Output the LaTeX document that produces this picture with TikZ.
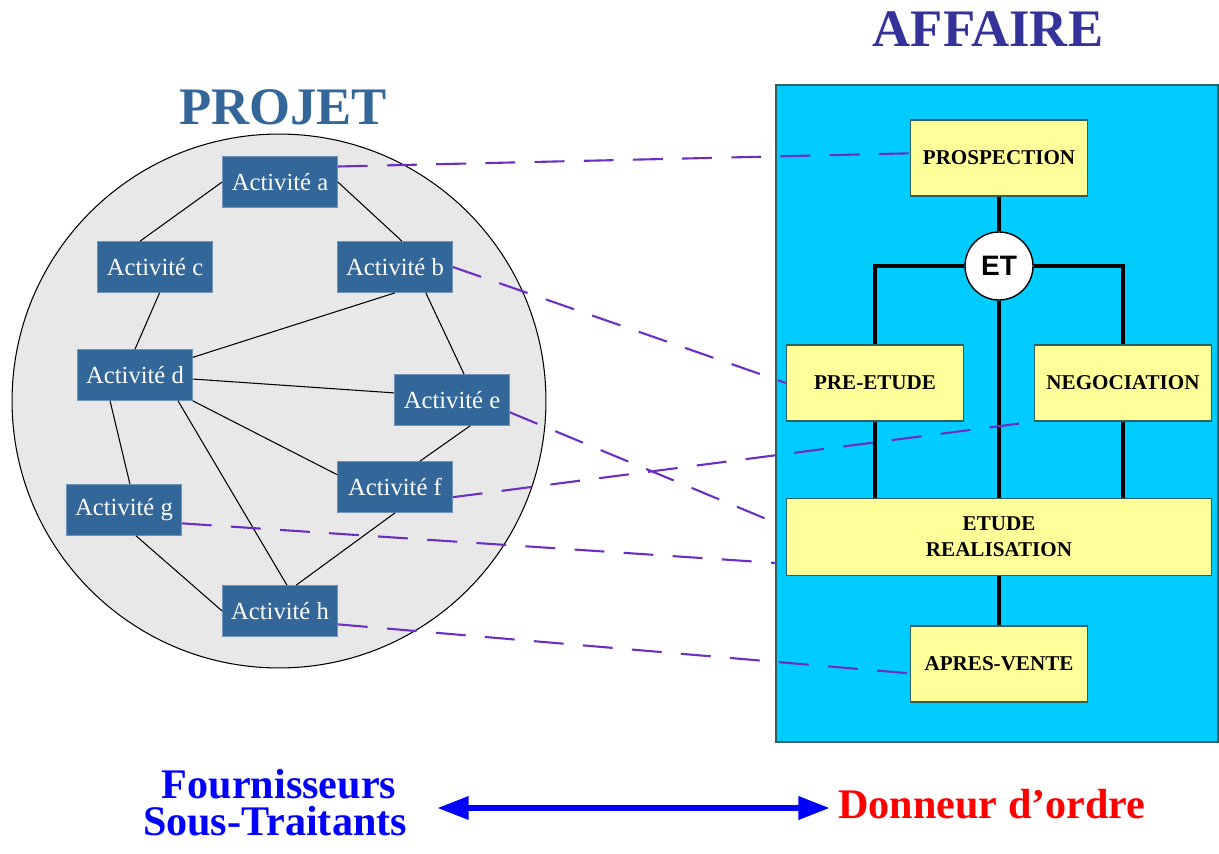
\documentclass[tikz,border=0pt]{standalone}
\usepackage{fontspec}
\setmainfont{Liberation Serif}
\newfontfamily\etfont{Liberation Sans}
\usepackage{xcolor}
\usetikzlibrary{arrows.meta,calc}
\definecolor{actblue}{HTML}{336699}
\definecolor{affblue}{HTML}{333399}
\definecolor{zonecyan}{HTML}{00CCFF}
\definecolor{phaseyellow}{HTML}{FFFF99}
\definecolor{edgeteal}{HTML}{2F6060}
\definecolor{linkviolet}{HTML}{6B2FC4}
\definecolor{zonegrey}{HTML}{E8E8E8}

\begin{document}
\begin{tikzpicture}[x=0.02cm,y=-0.02cm,
    act/.style={fill=actblue,draw=actblue!70!white,text=white,minimum width=2.3cm,minimum height=1.02cm,inner sep=0pt,font=\fontsize{14}{16}\selectfont},
    phase/.style={fill=phaseyellow,draw=edgeteal,line width=0.8pt,minimum width=3.54cm,minimum height=1.52cm,inner sep=0pt,align=center,font=\bfseries\fontsize{12}{14.8}\selectfont},
    actlink/.style={black,line width=0.6pt},
    andlink/.style={black,line width=2.8pt},
    dashlink/.style={linkviolet,line width=1.2pt,dash pattern=on 17pt off 11pt},
    bigtext/.style={anchor=base,inner sep=0pt,font=\bfseries\fontsize{24}{24}\selectfont}]
    \useasboundingbox (0,0) rectangle (1219,854);
    \node[anchor=base,inner sep=0pt,text=actblue,font=\bfseries\fontsize{30}{30}\selectfont] (projet) at (283,125) {PROJET};
    \node[anchor=base,inner sep=0pt,text=affblue,font=\bfseries\fontsize{30}{30}\selectfont] (affaire) at (988,47) {AFFAIRE};
    \node[circle,draw=black,fill=zonegrey,line width=0.6pt,minimum size=10.68cm,inner sep=0pt] (projetzone) at (279,401) {};
    \node[act] (a) at (280,182) {Activité a};
    \node[act] (b) at (395,267) {Activité b};
    \node[act] (c) at (155,267) {Activité c};
    \node[act] (d) at (135,375) {Activité d};
    \node[act] (e) at (452,400) {Activité e};
    \node[act] (f) at (395,487) {Activité f};
    \node[act] (g) at (124,510) {Activité g};
    \node[act] (h) at (280,611) {Activité h};
    \draw[actlink] (a.west) -- (c.120);
    \draw[actlink] (a.east) -- (b.75);
    \draw[actlink] (c.280) -- (d.north);
    \draw[actlink] (b.south) -- (d.17);
    \draw[actlink] (b.320) -- (e.65);
    \draw[actlink] (d.356) -- (e.173);
    \draw[actlink] (d.south east) -- (f.168);
    \draw[actlink] (d.226) -- (g.77);
    \draw[actlink] (d.329) -- (h.75);
    \draw[actlink] (e.305) -- (f.46);
    \draw[actlink] (f.south) -- (h.58);
    \draw[actlink] (g.295) -- (h.west);

    \node[draw=edgeteal,fill=zonecyan,line width=1pt,minimum width=8.84cm,minimum height=13.14cm,inner sep=0pt] (affairezone) at (997,413.5) {};
    \coordinate (eend) at (776,523);
    \coordinate (gend) at (776,563);
    \node[phase] (prospection) at (999,158) {PROSPECTION};
    \node[circle,draw=black,fill=white,line width=0.8pt,minimum size=1.36cm,inner sep=0pt,font=\etfont\bfseries\fontsize{16}{16}\selectfont] (et) at (999,266) {ET};
    \node[phase] (preetude) at (875,383) {PRE-ETUDE};
    \node[phase] (negociation) at (1123,383) {NEGOCIATION};
    \node[phase,minimum width=8.5cm,minimum height=1.54cm] (etude) at (999,537) {ETUDE\\REALISATION};
    \node[phase] (apres) at (999,664) {APRES-VENTE};
    \draw[andlink] (prospection) -- (et);
    \draw[andlink] (et) -- (etude);
    \draw[andlink] (et) -| (preetude);
    \draw[andlink] (et) -| (negociation);
    \draw[andlink] (preetude.south) -- (preetude.south |- etude.north);
    \draw[andlink] (negociation.south) -- (negociation.south |- etude.north);
    \draw[andlink] (etude) -- (apres);

    \draw[dashlink] (a.15) -- (prospection.177);
    \draw[dashlink] (b.east) -- (preetude.west);
    \draw[dashlink] (e.348) -- (eend);
    \draw[dashlink] (f.350) -- (negociation.south west);
    \draw[dashlink] (g.347) -- (gend);
    \draw[dashlink] (h.347) -- (apres.186);

    \node[bigtext,text=blue] (fournisseurs) at (279,798) {Fournisseurs};
    \node[bigtext,text=blue] (soustraitants) at (275,835) {Sous-Traitants};
    \node[bigtext,anchor=base west,text=red] (donneur) at (838,818) {Donneur d’ordre};
    \coordinate (arrowl) at (437,808);
    \coordinate (arrowr) at (830,808);
    \draw[blue,line width=3.7pt,{Triangle[length=18pt,width=12.5pt]}-{Triangle[length=18pt,width=12.5pt]}] (arrowl) -- (arrowr);
\end{tikzpicture}
\end{document}
